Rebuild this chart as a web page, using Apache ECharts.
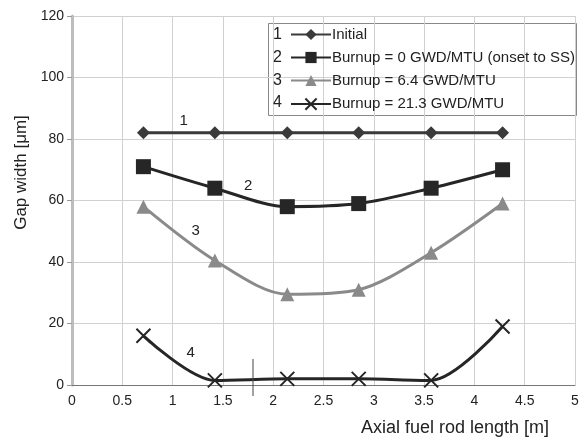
<!DOCTYPE html>
<html>
<head>
<meta charset="utf-8">
<script src="https://cdn.jsdelivr.net/npm/echarts@6/dist/echarts.min.js"></script>
<style>
  html, body { margin: 0; padding: 0; background: #fff; }
  #chart { width: 588px; height: 439px; }
</style>
</head>
<body>
<div id="chart"></div>
<script>
// axial positions along the rod [m]
var positions = [0.71, 1.42, 2.14, 2.85, 3.57, 4.28];

var initial = [82, 82, 82, 82, 82, 82];
var burnup0 = [71, 64, 58, 59, 64, 70];
var burnup64 = [58, 40.5, 29.5, 31, 43, 59];
var burnup213 = [16, 1.5, 2, 2, 1.5, 19];

var seriesNames = [
  'Initial',
  'Burnup = 0 GWD/MTU (onset to SS)',
  'Burnup = 6.4 GWD/MTU',
  'Burnup = 21.3 GWD/MTU'
];
var legendNumbers = ['1', '2', '3', '4'];

// curve number labels [x, y]
var curveLabels = [[1.11, 86], [1.75, 64.7], [1.23, 50], [1.18, 10.5]];

var pairs = function (ys) {
  return positions.map(function (x, i) { return [x, ys[i]]; });
};

var font = 'Liberation Sans, Arial, sans-serif';
var cross = 'path://M0,0L10,10M10,0L0,10';

var curveLabel = function (i) {
  return {
    symbol: 'circle',
    symbolSize: 1,
    itemStyle: { color: 'rgba(0,0,0,0)' },
    label: { show: true, position: 'inside', formatter: legendNumbers[i],
      color: '#222', fontSize: 15, fontFamily: font },
    data: [{ coord: curveLabels[i], value: legendNumbers[i] }]
  };
};

var numberText = function (i) {
  return { type: 'text', left: 273, top: 26.5 + i * 22.8, z: 10,
    style: { text: legendNumbers[i], fontSize: 16, fontFamily: font, fill: '#222' } };
};

var myChart = echarts.init(document.getElementById('chart'));
var option = {
  backgroundColor: '#fff',
  animation: false,
  textStyle: { fontFamily: font },
  grid: { left: 72, right: 13, top: 16, bottom: 54 },
  xAxis: {
    type: 'value',
    min: 0,
    max: 5,
    interval: 0.5,
    name: 'Axial fuel rod length [m]',
    nameLocation: 'end',
    nameGap: 0,
    nameTextStyle: { color: '#222', fontSize: 18, align: 'right',
      verticalAlign: 'top', padding: [34, 26, 0, 0] },
    axisLine: { lineStyle: { color: '#777', width: 1 } },
    axisTick: { show: false },
    axisLabel: { color: '#222', fontSize: 14, margin: 9 },
    splitLine: { lineStyle: { color: '#d0d0d0', width: 1 } }
  },
  yAxis: {
    type: 'value',
    min: 0,
    max: 120,
    interval: 20,
    name: 'Gap width [\u03bcm]',
    nameLocation: 'middle',
    nameGap: 42,
    nameTextStyle: { color: '#222', fontSize: 17, padding: [0, 0, 0, 56] },
    axisLine: { show: true, lineStyle: { color: '#bdbdbd', width: 3 } },
    axisTick: { show: true, length: 5, lineStyle: { color: '#999' } },
    axisLabel: { color: '#222', fontSize: 14, margin: 8 },
    splitLine: { lineStyle: { color: '#d0d0d0', width: 1 } }
  },
  legend: {
    orient: 'vertical',
    left: 285,
    top: 22,
    itemWidth: 40,
    itemHeight: 14,
    itemGap: 8,
    textStyle: { color: '#222', fontSize: 15, padding: [0, 0, 0, -4] },
    data: seriesNames
  },
  graphic: [
    { type: 'rect', left: 268, top: 23, z: 0,
      shape: { width: 308, height: 92 },
      style: { fill: '#fff', stroke: '#888', lineWidth: 1 } },
    numberText(0),
    numberText(1),
    numberText(2),
    numberText(3),
    { type: 'line', z: 10,
      shape: { x1: 253, y1: 359, x2: 253, y2: 396 },
      style: { stroke: '#444', lineWidth: 1 } }
  ],
  series: [
    {
      name: seriesNames[0], type: 'line', data: pairs(initial),
      symbol: 'diamond', symbolSize: 13,
      lineStyle: { color: '#3a3a3a', width: 3 },
      itemStyle: { color: '#3a3a3a' },
      markPoint: curveLabel(0)
    },
    {
      name: seriesNames[1], type: 'line', data: pairs(burnup0), smooth: 0.3,
      symbol: 'rect', symbolSize: 15,
      lineStyle: { color: '#262626', width: 3 },
      itemStyle: { color: '#262626' },
      markPoint: curveLabel(1)
    },
    {
      name: seriesNames[2], type: 'line', data: pairs(burnup64), smooth: 0.3,
      symbol: 'triangle', symbolSize: 14,
      lineStyle: { color: '#8a8a8a', width: 3 },
      itemStyle: { color: '#8a8a8a' },
      markPoint: curveLabel(2)
    },
    {
      name: seriesNames[3], type: 'line', data: pairs(burnup213), smooth: 0.3,
      symbol: cross, symbolSize: 14,
      lineStyle: { color: '#262626', width: 3 },
      itemStyle: { color: 'none', borderColor: '#262626', borderWidth: 2 },
      markPoint: curveLabel(3)
    }
  ]
};
myChart.setOption(option);
</script>
</body>
</html>
